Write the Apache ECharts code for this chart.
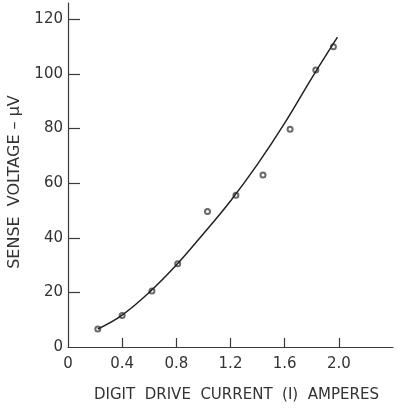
<!DOCTYPE html>
<html>
<head>
<meta charset="utf-8">
<script src="https://cdn.jsdelivr.net/npm/echarts@6/dist/echarts.min.js"></script>
<style>
  html, body { margin: 0; padding: 0; background: #fff; }
  #chart { width: 398px; height: 408px; }
</style>
</head>
<body>
<div id="chart"></div>
<script>
// measured points (current in A, voltage in uV)
var pointX = [0.22, 0.40, 0.62, 0.81, 1.03, 1.24, 1.44, 1.64, 1.83, 1.96];
var pointY = [6.6, 11.5, 20.5, 30.5, 49.6, 55.6, 63, 79.8, 101.5, 110];
// fitted curve drawn through the data
var curveX = [0.22, 0.40, 0.60, 0.80, 1.00, 1.20, 1.40, 1.60, 1.80, 1.99];
var curveY = [6.6, 11.7, 20, 30, 41.5, 53.5, 67, 82, 98.5, 113.5];
var xTicks = [0.4, 0.8, 1.2, 1.6, 2.0];
var xLabels = [0, 0.4, 0.8, 1.2, 1.6, 2.0];
var yTicks = [20, 40, 60, 80, 100, 120];
var yLabels = [0, 20, 40, 60, 80, 100, 120];

var chart = echarts.init(document.getElementById('chart'));
var font = 'DejaVu Sans';
var ink = '#3a3a3a';

chart.setOption({
  animation: false,
  grid: { left: 68, right: 5, top: 3, bottom: 61 },
  xAxis: {
    type: 'value',
    min: 0,
    max: 2.4,
    splitLine: { show: false },
    axisLine: { lineStyle: { color: ink, width: 1.2 } },
    axisTick: { inside: true, length: 9, customValues: xTicks, lineStyle: { color: ink, width: 1.2 } },
    axisLabel: {
      customValues: xLabels,
      margin: 10,
      color: '#333',
      fontFamily: font,
      fontSize: 15,
      formatter: function (v) { return v === 0 ? '0' : v.toFixed(1); }
    }
  },
  yAxis: {
    type: 'value',
    min: 0,
    max: 126,
    splitLine: { show: false },
    axisLine: { lineStyle: { color: ink, width: 1.2 } },
    axisTick: { inside: true, length: 12, customValues: yTicks, lineStyle: { color: ink, width: 1.2 } },
    axisLabel: {
      customValues: yLabels,
      margin: 5,
      color: '#333',
      fontFamily: font,
      fontSize: 15
    }
  },
  graphic: [
    {
      type: 'text',
      x: 15,
      y: 182,
      rotation: Math.PI / 2,
      style: {
        text: 'SENSE  VOLTAGE – μV',
        fill: '#333',
        font: '16px "DejaVu Sans"',
        align: 'center',
        verticalAlign: 'middle'
      }
    },
    {
      type: 'text',
      left: 94,
      top: 388,
      style: { text: 'DIGIT  DRIVE  CURRENT  (I)  AMPERES', fill: '#333', font: '15px "DejaVu Sans"' }
    }
  ],
  series: [
    {
      type: 'line',
      smooth: 0.4,
      symbol: 'none',
      data: curveX.map(function (x, i) { return [x, curveY[i]]; }),
      lineStyle: { color: '#222', width: 1.5 }
    },
    {
      type: 'scatter',
      symbol: 'emptyCircle',
      symbolSize: 5,
      data: pointX.map(function (x, i) { return [x, pointY[i]]; }),
      itemStyle: { color: '#444', borderWidth: 1.2 }
    }
  ]
});
</script>
</body>
</html>
